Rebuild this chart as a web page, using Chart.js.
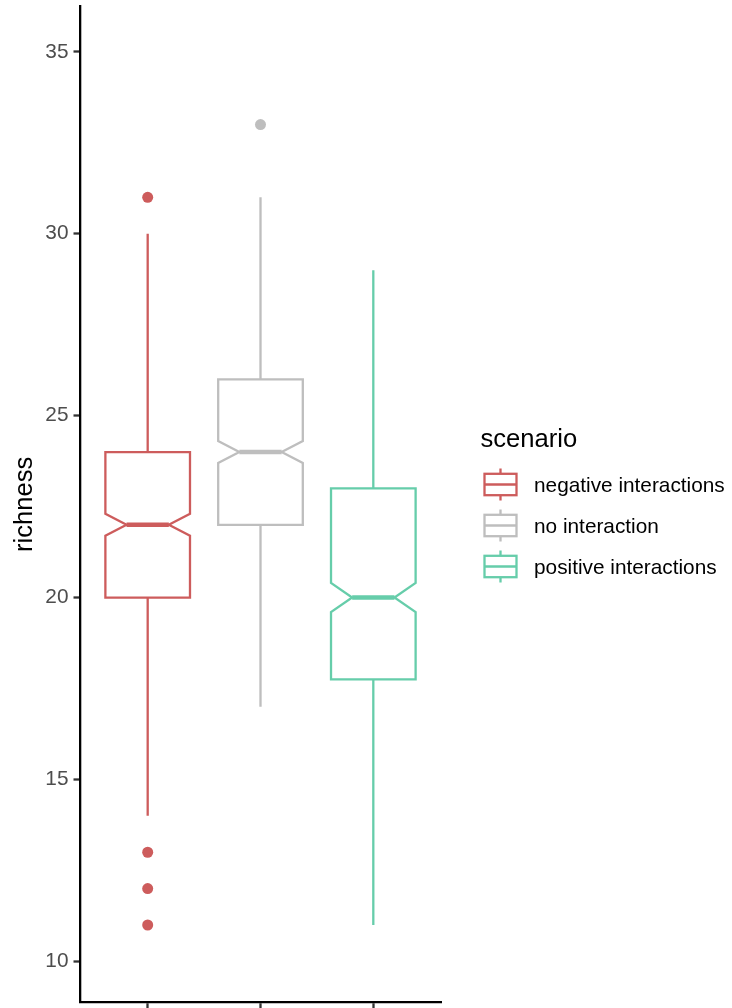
<!DOCTYPE html>
<html><head><meta charset="utf-8">
<script src="https://cdn.jsdelivr.net/npm/chart.js@4.4.1/dist/chart.umd.min.js"></script>
<style>html,body{margin:0;padding:0;background:#fff}#wrap{width:732px;height:1008px;position:relative}canvas{display:block}</style>
</head><body><div id="wrap"><canvas id="c" width="732" height="1008"></canvas></div>
<script>
const categories = ['negative interactions', 'no interaction', 'positive interactions'];
const colors = ['#CD5C5C', '#BEBEBE', '#66CDAA'];
const whiskerLow = [14, 17, 11];
const q1 = [20, 22, 17.75];
const notchLow = [21.7, 23.7, 19.6];
const median = [22, 24, 20];
const notchHigh = [22.3, 24.3, 20.4];
const q3 = [24, 26, 23];
const whiskerHigh = [30, 31, 29];
const outliers = [[31, 13, 12, 11], [33], []];
const yTicks = [10, 15, 20, 25, 30, 35];
const legendTitle = 'scenario';
const yTitle = 'richness';

const FONT = "'Liberation Sans', Arial, Helvetica, sans-serif";
const BOX_W = 0.75, NOTCH_W = 0.5, LW = 2.3;

const boxPlugin = {
  id: 'boxes',
  beforeDatasetsDraw(chart) {
    const ctx = chart.ctx, xs = chart.scales.x, ys = chart.scales.y;
    ctx.save();
    ctx.lineJoin = 'miter';
    categories.forEach((c, i) => {
      const v = i + 1;
      const cx = xs.getPixelForValue(v);
      const L = xs.getPixelForValue(v - BOX_W / 2), R = xs.getPixelForValue(v + BOX_W / 2);
      const nL = xs.getPixelForValue(v - BOX_W * NOTCH_W / 2), nR = xs.getPixelForValue(v + BOX_W * NOTCH_W / 2);
      const y = k => ys.getPixelForValue(k);
      ctx.strokeStyle = colors[i];
      ctx.lineWidth = LW;
      ctx.beginPath();
      ctx.moveTo(cx, y(q3[i])); ctx.lineTo(cx, y(whiskerHigh[i]));
      ctx.moveTo(cx, y(q1[i])); ctx.lineTo(cx, y(whiskerLow[i]));
      ctx.stroke();
      ctx.beginPath();
      ctx.moveTo(L, y(q3[i])); ctx.lineTo(R, y(q3[i]));
      ctx.lineTo(R, y(notchHigh[i])); ctx.lineTo(nR, y(median[i]));
      ctx.lineTo(R, y(notchLow[i])); ctx.lineTo(R, y(q1[i]));
      ctx.lineTo(L, y(q1[i])); ctx.lineTo(L, y(notchLow[i]));
      ctx.lineTo(nL, y(median[i])); ctx.lineTo(L, y(notchHigh[i]));
      ctx.closePath();
      ctx.fillStyle = '#fff';
      ctx.fill();
      ctx.stroke();
      ctx.lineWidth = LW * 2;
      ctx.lineCap = 'butt';
      ctx.beginPath();
      ctx.moveTo(nL, y(median[i])); ctx.lineTo(nR, y(median[i]));
      ctx.stroke();
    });
    ctx.restore();
  },
  afterDraw(chart) {
    const ctx = chart.ctx;
    ctx.save();
    ctx.fillStyle = '#000';
    ctx.textAlign = 'left';
    ctx.textBaseline = 'alphabetic';
    ctx.font = `25.6px ${FONT}`;
    ctx.fillText(legendTitle, 480.5, 447);
    ctx.font = `20.8px ${FONT}`;
    categories.forEach((c, i) => {
      const cy = 484.5 + i * 41;
      const cx = 500.5;
      ctx.strokeStyle = colors[i];
      ctx.lineWidth = LW;
      ctx.beginPath();
      ctx.moveTo(cx, cy - 16); ctx.lineTo(cx, cy - 10.7);
      ctx.moveTo(cx, cy + 10.7); ctx.lineTo(cx, cy + 16);
      ctx.moveTo(cx - 16, cy); ctx.lineTo(cx + 16, cy);
      ctx.stroke();
      ctx.strokeRect(cx - 16, cy - 10.7, 32, 21.4);
      ctx.fillStyle = '#000';
      ctx.fillText(c, 534, cy + 7.5);
    });
    ctx.restore();
  }
};

const datasets = categories.map((c, i) => ({
  label: c,
  data: outliers[i].map(v => ({ x: i + 1, y: v })),
  backgroundColor: colors[i],
  borderColor: colors[i],
  borderWidth: 0,
  pointRadius: 5.5,
  showLine: false
}));

new Chart(document.getElementById('c'), {
  type: 'scatter',
  data: { datasets },
  plugins: [boxPlugin],
  options: {
    responsive: false,
    animation: false,
    devicePixelRatio: 1,
    layout: { padding: { left: 0, top: 6, right: 291, bottom: 0 } },
    plugins: { legend: { display: false }, tooltip: { enabled: false } },
    scales: {
      x: {
        type: 'linear', position: 'bottom', min: 0.4, max: 3.6,
        afterBuildTicks: s => { s.ticks = categories.map((_, i) => ({ value: i + 1 })); },
        afterFit: s => { s.height = 2; s.paddingLeft = 0; s.paddingRight = 0; s.paddingTop = 0; s.paddingBottom = 0; },
        ticks: { display: false },
        grid: { display: true, drawOnChartArea: false, drawTicks: true, tickLength: 7, tickColor: '#333333', tickWidth: 2.3 },
        border: { display: true, color: '#000', width: 2.3 }
      },
      y: {
        type: 'linear', position: 'left', min: 8.87, max: 36.26,
        afterBuildTicks: s => { s.ticks = yTicks.map(v => ({ value: v })); },
        afterFit: s => { s.width = 80; s.paddingTop = 0; s.paddingBottom = 0; s.paddingLeft = 0; s.paddingRight = 0; },
        ticks: { color: '#4D4D4D', font: { family: FONT, size: 20.8 }, padding: 5 },
        grid: { display: true, drawOnChartArea: false, drawTicks: true, tickLength: 6.5, tickColor: '#333333', tickWidth: 2.3 },
        border: { display: true, color: '#000', width: 2.3 },
        title: { display: true, text: yTitle, color: '#000', font: { family: FONT, size: 25.6 }, padding: { top: 9.6, bottom: 0 } }
      }
    }
  }
});
</script></body></html>
